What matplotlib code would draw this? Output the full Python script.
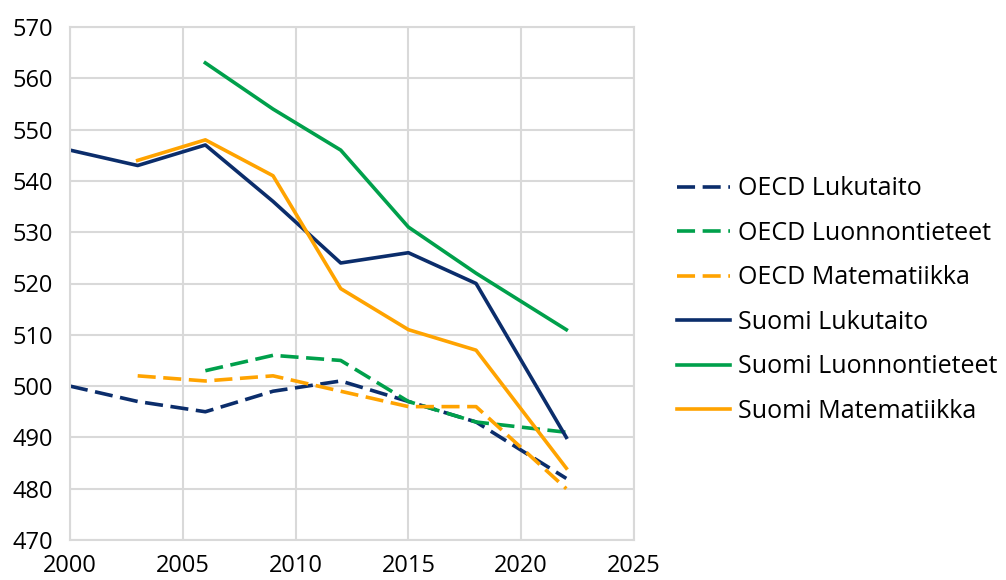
import matplotlib
matplotlib.use("Agg")
import matplotlib.pyplot as plt

plt.rcParams['font.family'] = ['Open Sans', 'DejaVu Sans']

years = [2000, 2003, 2006, 2009, 2012, 2015, 2018, 2022]
years_sci = [2006, 2009, 2012, 2015, 2018, 2022]
years_math = [2003, 2006, 2009, 2012, 2015, 2018, 2022]

oecd_luku = [500, 497, 495, 499, 501, 497, 493, 482]
oecd_luonn = [503, 506, 505, 497, 493, 491]
oecd_mat = [502, 501, 502, 499, 496, 496, 480]
suomi_luku = [546, 543, 547, 536, 524, 526, 520, 490]
suomi_luonn = [563, 554, 546, 531, 522, 511]
suomi_mat = [544, 548, 541, 519, 511, 507, 484]

navy = '#0b2d6b'
green = '#00a04b'
orange = '#ffa300'

fig = plt.figure(figsize=(10.06, 5.8), dpi=100)
ax = fig.add_axes([70/1006, 1-540/580, (634-70)/1006, (540-27)/580])

lw = 2.6
dash = (0, (5.0, 2.1))
ax.plot(years, oecd_luku, color=navy, lw=lw, linestyle=dash, label='OECD Lukutaito')
ax.plot(years_sci, oecd_luonn, color=green, lw=lw, linestyle=dash, label='OECD Luonnontieteet')
ax.plot(years_math, oecd_mat, color=orange, lw=lw, linestyle=dash, label='OECD Matematiikka')
ax.plot(years, suomi_luku, color=navy, lw=lw, label='Suomi Lukutaito')
ax.plot(years_sci, suomi_luonn, color=green, lw=lw, label='Suomi Luonnontieteet')
ax.plot(years_math, suomi_mat, color=orange, lw=lw, label='Suomi Matematiikka')

ax.set_xlim(2000, 2025)
ax.set_ylim(470, 570)
ax.set_xticks(range(2000, 2026, 5))
ax.set_yticks(range(470, 571, 10))
ax.grid(True, color='#d9d9d9', lw=1.5)
ax.set_axisbelow(True)
for s in ax.spines.values():
    s.set_color('#d9d9d9')
    s.set_linewidth(1.5)
ax.tick_params(length=0, labelsize=17, colors='black')
ax.tick_params(axis='x', pad=10)
ax.tick_params(axis='y', pad=12)

fig.legend(loc='center left', bbox_to_anchor=(654/1006, 1-300/580), frameon=False,
           fontsize=18, handlelength=2.15, handletextpad=0.3, labelspacing=0.78)

fig.savefig('out.png', dpi=100)
